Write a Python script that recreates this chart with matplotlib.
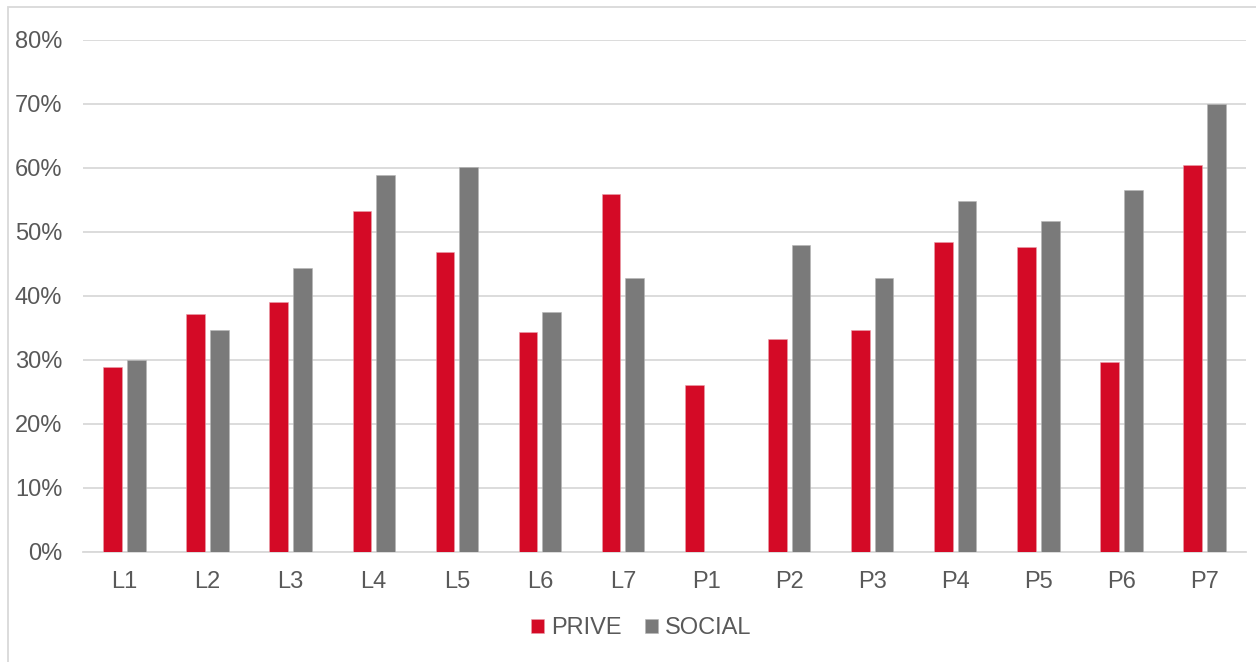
import numpy as np
import matplotlib.pyplot as plt
from matplotlib.patches import Rectangle
from matplotlib.ticker import FuncFormatter

plt.rcParams['font.family'] = ['Liberation Sans', 'DejaVu Sans']

# data (percent)
categories = ['L1', 'L2', 'L3', 'L4', 'L5', 'L6', 'L7',
              'P1', 'P2', 'P3', 'P4', 'P5', 'P6', 'P7']
prive = [28.8, 37.2, 39.0, 53.2, 46.8, 34.3, 55.9,
         26.0, 33.2, 34.7, 48.4, 47.7, 29.6, 60.5]
social = [30.0, 34.7, 44.3, 58.9, 60.1, 37.4, 42.8,
          np.nan, 47.9, 42.8, 54.9, 51.7, 56.5, 70.0]

red = '#D40A26'
grey = '#7A7A7A'
txt = '#595959'
grid = '#D9D9D9'
fs = 17

fig = plt.figure(figsize=(12.56, 6.62), dpi=100)
ax = fig.add_axes([83 / 1256, 1 - 551.7 / 662, (1246 - 83) / 1256, (551.7 - 40) / 662])

# outer chart frame (only top and left edges fall inside the picture)
fig.patches.append(Rectangle((8 / 1256, -0.05), 1.1, 1 - 7 / 662 + 0.05,
                             transform=fig.transFigure, fill=False,
                             edgecolor=grid, linewidth=1.3, zorder=0))

x = np.arange(len(categories))
w = 0.225
off = 0.143
pv = np.array(prive) / 100
sv = np.array(social) / 100
ax.bar(x - off, pv, w, color=red, edgecolor='#E8A0AA', linewidth=0.4, label='PRIVE', zorder=3)
ax.bar(x + off, np.nan_to_num(sv), w, color=grey, edgecolor='#B5B5B5', linewidth=0.4, label='SOCIAL', zorder=3)

ax.set_xlim(-0.5, len(categories) - 0.5)
ax.set_ylim(0, 0.8)
ax.set_yticks(np.arange(0, 0.81, 0.1))
ax.yaxis.set_major_formatter(FuncFormatter(lambda v, p: '%d%%' % round(v * 100)))
ax.set_xticks(x)
ax.set_xticklabels(categories)

ax.grid(axis='y', color=grid, linewidth=1.3, zorder=0)
ax.set_axisbelow(True)
for s in ['top', 'right', 'left']:
    ax.spines[s].set_visible(False)
ax.spines['bottom'].set_color(grid)
ax.spines['bottom'].set_linewidth(1.3)
ax.tick_params(axis='y', length=0, pad=15, labelsize=fs, labelcolor=txt)
ax.tick_params(axis='x', length=0, pad=14, labelsize=fs, labelcolor=txt)

fig.legend(loc='center', bbox_to_anchor=(641 / 1256, 1 - 628 / 662), ncol=2,
           frameon=False, fontsize=fs, labelcolor=txt, handlelength=0.55,
           handleheight=0.55, handletextpad=0.3, columnspacing=1.0)

fig.savefig('out.png', dpi=100)
